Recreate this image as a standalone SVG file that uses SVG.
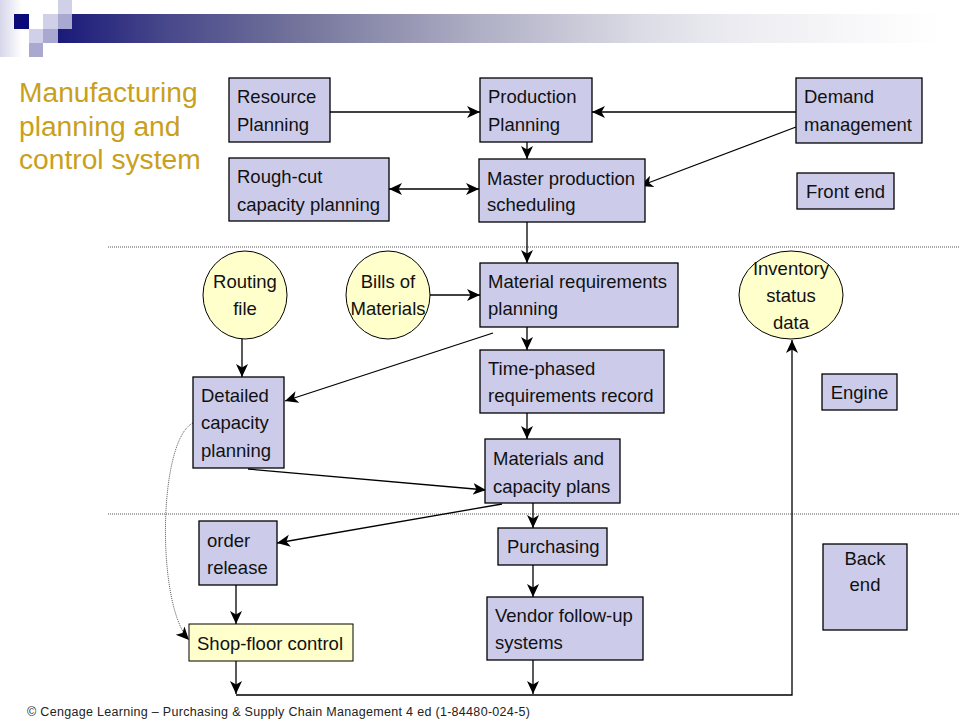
<svg xmlns="http://www.w3.org/2000/svg" width="960" height="720" viewBox="0 0 960 720">
<defs>
<linearGradient id="bar" x1="58" y1="0" x2="945" y2="0" gradientUnits="userSpaceOnUse">
<stop offset="0" stop-color="#1a1a7a"/>
<stop offset="0.115" stop-color="#45458a"/>
<stop offset="0.275" stop-color="#75759c"/>
<stop offset="0.48" stop-color="#b0b0c6"/>
<stop offset="0.66" stop-color="#dcdce6"/>
<stop offset="0.75" stop-color="#eaeaf0"/>
<stop offset="0.9" stop-color="#f8f8fa"/>
<stop offset="1" stop-color="#ffffff"/>
</linearGradient>
<linearGradient id="fade" x1="0" y1="0" x2="1" y2="0">
<stop offset="0" stop-color="#d6d6ea"/>
<stop offset="1" stop-color="#ffffff"/>
</linearGradient>
<marker id="arr" markerUnits="userSpaceOnUse" markerWidth="16" markerHeight="14" refX="13" refY="6" orient="auto-start-reverse" viewBox="0 0 16 12">
<path d="M0,0 L13,6 L0,12 L3.5,6 Z" fill="#000"/>
</marker>
</defs>
<style>
.box{fill:#ccccea;stroke:#000;stroke-width:1.3}
.yel{fill:#ffffcc;stroke:#000;stroke-width:1}
.t{font-family:"Liberation Sans",Arial,sans-serif;font-size:18.5px;fill:#111}
.c{text-anchor:middle}
.ln{fill:none;stroke:#000;stroke-width:1.3}
.dot{fill:none;stroke:#555;stroke-width:1;stroke-dasharray:1,1}
</style>
<rect x="0" y="0" width="960" height="720" fill="#fff"/>
<g id="decor">
<rect x="0" y="0" width="22" height="57" fill="url(#fade)"/>
<rect x="58" y="14" width="890" height="29" fill="url(#bar)"/>
<rect x="14" y="14" width="15" height="15" fill="#0a0a78"/>
<rect x="43" y="14" width="15" height="15" fill="#d0d0e8"/>
<rect x="58" y="0" width="14" height="14" fill="#d0d0e8"/>
<rect x="58" y="14" width="14" height="15" fill="#a8a8d0"/>
<rect x="29" y="29" width="14" height="14" fill="#d0d0e8"/>
<rect x="43" y="29" width="15" height="14" fill="#a8a8d0"/>
<rect x="29" y="43" width="14" height="14" fill="#a8a8d0"/>
</g>
<g id="title" font-family="Liberation Sans,Arial,sans-serif" font-size="28.2" fill="#c9a01c">
<text x="19" y="102">Manufacturing</text>
<text x="19" y="136">planning and</text>
<text x="19" y="169">control system</text>
</g>
<g id="separators">
<line class="dot" x1="108" y1="247" x2="960" y2="247"/>
<line class="dot" x1="108" y1="514" x2="960" y2="514"/>
</g>
<g id="connectors">
<path class="ln" d="M330,112 H480" marker-end="url(#arr)"/>
<path class="ln" d="M796,112 H592" marker-end="url(#arr)"/>
<path class="ln" d="M527,142 V159" marker-end="url(#arr)"/>
<path class="ln" d="M389,189 H479" marker-start="url(#arr)" marker-end="url(#arr)"/>
<path class="ln" d="M796,127 L640,186" marker-end="url(#arr)"/>
<path class="ln" d="M527,222 V263" marker-end="url(#arr)"/>
<path class="ln" d="M430,295 H480" marker-end="url(#arr)"/>
<path class="ln" d="M493,333 L285,401" marker-end="url(#arr)"/>
<path class="ln" d="M527,327 V350" marker-end="url(#arr)"/>
<path class="ln" d="M242,338 V377" marker-end="url(#arr)"/>
<path class="ln" d="M527,413 V439" marker-end="url(#arr)"/>
<path class="ln" d="M248,469 L486,490" marker-end="url(#arr)"/>
<path class="ln" d="M502,504 L277,543" marker-end="url(#arr)"/>
<path class="ln" d="M533,503 V528" marker-end="url(#arr)"/>
<path class="ln" d="M533,565 V597" marker-end="url(#arr)"/>
<path class="ln" d="M236,585 V624" marker-end="url(#arr)"/>
<path class="dot" d="M193,423 C158,440 156,605 189,640" marker-end="url(#arr)"/>
<path class="ln" d="M236,661 V694" marker-end="url(#arr)"/>
<path class="ln" d="M533,660 V694" marker-end="url(#arr)"/>
<path class="ln" d="M236,695 H792 V340" marker-end="url(#arr)"/>
</g>
<g id="resource-planning"><rect class="box" x="229" y="78" width="101" height="64"/><text class="t" x="237" y="103">Resource</text><text class="t" x="237" y="131">Planning</text></g>
<g id="production-planning"><rect class="box" x="480" y="78" width="112" height="64"/><text class="t" x="488" y="103">Production</text><text class="t" x="488" y="131">Planning</text></g>
<g id="demand-management"><rect class="box" x="796" y="78" width="126" height="65"/><text class="t" x="804" y="103">Demand</text><text class="t" x="804" y="131">management</text></g>
<g id="rough-cut"><rect class="box" x="229" y="158" width="160" height="63"/><text class="t" x="237" y="183">Rough-cut</text><text class="t" x="237" y="211">capacity planning</text></g>
<g id="master-production"><rect class="box" x="479" y="159" width="166" height="63"/><text class="t" x="487" y="185">Master production</text><text class="t" x="487" y="211">scheduling</text></g>
<g id="front-end"><rect class="box" x="797" y="173" width="97" height="36"/><text class="t" x="845.5" y="198" text-anchor="middle">Front end</text></g>
<g id="routing-file"><ellipse class="yel" cx="245" cy="295" rx="42" ry="44"/><text class="t c" x="245" y="288">Routing</text><text class="t c" x="245" y="315">file</text></g>
<g id="bills-of-materials"><ellipse class="yel" cx="388" cy="295" rx="42" ry="44"/><text class="t c" x="388" y="288">Bills of</text><text class="t c" x="388" y="315">Materials</text></g>
<g id="mrp"><rect class="box" x="480" y="263" width="198" height="64"/><text class="t" x="488" y="288">Material requirements</text><text class="t" x="488" y="315">planning</text></g>
<g id="inventory-status"><ellipse class="yel" cx="791" cy="295" rx="52" ry="44"/><text class="t c" x="791" y="275">Inventory</text><text class="t c" x="791" y="302">status</text><text class="t c" x="791" y="329">data</text></g>
<g id="time-phased"><rect class="box" x="480" y="350" width="184" height="63"/><text class="t" x="488" y="375">Time-phased</text><text class="t" x="488" y="402">requirements record</text></g>
<g id="detailed-capacity"><rect class="box" x="193" y="377" width="91" height="91"/><text class="t" x="201" y="402">Detailed</text><text class="t" x="201" y="429">capacity</text><text class="t" x="201" y="457">planning</text></g>
<g id="engine"><rect class="box" x="822" y="374" width="75" height="36"/><text class="t c" x="859.5" y="399">Engine</text></g>
<g id="materials-capacity"><rect class="box" x="485" y="439" width="135" height="64"/><text class="t" x="493" y="465">Materials and</text><text class="t" x="493" y="493">capacity plans</text></g>
<g id="order-release"><rect class="box" x="199" y="521" width="78" height="64"/><text class="t" x="207" y="547">order</text><text class="t" x="207" y="574">release</text></g>
<g id="purchasing"><rect class="box" x="498" y="528" width="109" height="37"/><text class="t" x="507" y="553">Purchasing</text></g>
<g id="back-end"><rect class="box" x="823" y="544" width="84" height="86"/><text class="t c" x="865" y="565">Back</text><text class="t c" x="865" y="591">end</text></g>
<g id="shop-floor"><rect class="yel" x="189" y="624" width="164" height="37"/><text class="t" x="197" y="650">Shop-floor control</text></g>
<g id="vendor-follow-up"><rect class="box" x="487" y="597" width="156" height="63"/><text class="t" x="495" y="622">Vendor follow-up</text><text class="t" x="495" y="649">systems</text></g>
<text x="27" y="716" font-family="Liberation Sans,Arial,sans-serif" font-size="12.5" fill="#222" textLength="503">© Cengage Learning – Purchasing &amp; Supply Chain Management 4 ed (1-84480-024-5)</text>
</svg>
